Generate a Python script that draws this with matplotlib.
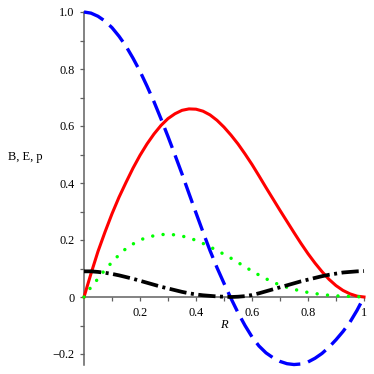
import numpy as np
import matplotlib
matplotlib.use("Agg")
import matplotlib.pyplot as plt
from matplotlib.ticker import FixedLocator

R = [0.000, 0.025, 0.050, 0.075, 0.100, 0.125, 0.150, 0.175, 0.200, 0.225,
     0.250, 0.275, 0.300, 0.325, 0.350, 0.375, 0.400, 0.425, 0.450, 0.475,
     0.500, 0.525, 0.550, 0.575, 0.600, 0.625, 0.650, 0.675, 0.700, 0.725,
     0.750, 0.775, 0.800, 0.825, 0.850, 0.875, 0.900, 0.925, 0.950, 0.975, 1.000]

B = [1.000, 0.996, 0.985, 0.968, 0.945, 0.915, 0.880, 0.838, 0.792, 0.740,
     0.685, 0.625, 0.563, 0.498, 0.432, 0.363, 0.295, 0.228, 0.163, 0.103,
     0.048, -0.005, -0.055, -0.100, -0.140, -0.172, -0.196, -0.213, -0.226, -0.234,
     -0.237, -0.235, -0.228, -0.215, -0.198, -0.176, -0.150, -0.121, -0.088, -0.047, 0.000]

E = [0.000, 0.082, 0.160, 0.228, 0.292, 0.350, 0.402, 0.452, 0.497, 0.537,
     0.572, 0.602, 0.626, 0.643, 0.655, 0.660, 0.659, 0.652, 0.639, 0.620,
     0.596, 0.568, 0.537, 0.502, 0.465, 0.425, 0.384, 0.344, 0.304, 0.265,
     0.226, 0.188, 0.152, 0.119, 0.089, 0.062, 0.040, 0.023, 0.011, 0.003, 0.000]

P = [0.000, 0.035, 0.064, 0.096, 0.122, 0.148, 0.170, 0.186, 0.200, 0.209,
     0.215, 0.219, 0.220, 0.218, 0.214, 0.207, 0.199, 0.188, 0.176, 0.163,
     0.150, 0.136, 0.121, 0.106, 0.091, 0.077, 0.064, 0.052, 0.042, 0.034,
     0.027, 0.021, 0.016, 0.012, 0.009, 0.006, 0.004, 0.003, 0.002, 0.001, 0.000]

K = [0.090, 0.090, 0.088, 0.085, 0.081, 0.076, 0.070, 0.064, 0.057, 0.050,
     0.043, 0.036, 0.030, 0.024, 0.018, 0.013, 0.009, 0.006, 0.004, 0.002,
     0.001, 0.000, 0.001, 0.003, 0.007, 0.013, 0.020, 0.027, 0.034, 0.041,
     0.048, 0.055, 0.061, 0.067, 0.073, 0.078, 0.082, 0.086, 0.088, 0.090, 0.091]

x_ticks = [0.2, 0.4, 0.6, 0.8, 1.0]
x_ticklabels = ["0.2", "0.4", "0.6", "0.8", "1"]
y_ticks = [-0.2, 0.0, 0.2, 0.4, 0.6, 0.8, 1.0]
y_ticklabels = ["\u22120.2", "0", "0.2", "0.4", "0.6", "0.8", "1.0"]

plt.rcParams['font.family'] = ['Liberation Serif', 'DejaVu Serif']

fig = plt.figure(figsize=(3.74, 3.74), dpi=100)
ax = fig.add_axes([84/374, (374-365.4)/374, 280/374, (365.4-12)/374])
ax.set_xlim(0, 1)
ax.set_ylim(-0.24, 1.0)

ax.plot(R, E, color=(1, 0, 0), lw=2.2, clip_on=False, zorder=3)
ax.plot(R, P, color=(0, 1, 0), lw=2.5, linestyle=(0, (0.01, 3.0)),
        dash_capstyle='round', clip_on=False, zorder=4)
ax.plot(R, B, color=(0, 0, 1), lw=2.4, linestyle=(0, (6.4, 2.4)),
        clip_on=False, zorder=5)
ax.plot(R, K, color='black', lw=2.7, linestyle=(0, (4.6, 1.2, 0.8, 1.2)),
        clip_on=False, zorder=6)

for s in ['top', 'right']:
    ax.spines[s].set_visible(False)
ax.spines['left'].set_position(('data', 0))
ax.spines['bottom'].set_position(('data', 0))
for s in ['left', 'bottom']:
    ax.spines[s].set_color('#606060')
    ax.spines[s].set_linewidth(1.1)
    ax.spines[s].set_zorder(2)

ax.set_xticks(x_ticks)
ax.set_xticklabels(x_ticklabels)
ax.set_yticks(y_ticks)
ax.set_yticklabels(y_ticklabels)
ax.xaxis.set_minor_locator(FixedLocator([0.1, 0.3, 0.5, 0.7, 0.9]))
ax.yaxis.set_minor_locator(FixedLocator([-0.1, 0.1, 0.3, 0.5, 0.7, 0.9]))
ax.tick_params(which='both', direction='out', length=3.2, width=0.9,
               color='#606060', labelsize=8.8, labelcolor='black')
ax.tick_params(axis='x', which='major', pad=4)
ax.tick_params(axis='y', which='major', pad=3.5)

ax.text(0.5, -0.098, "R", style='italic', fontsize=9, ha='center', va='center')
fig.text(8/374, 1 - 157/374, "B, E, p", fontsize=9, ha='left', va='center')

fig.savefig("out.png", dpi=100)
